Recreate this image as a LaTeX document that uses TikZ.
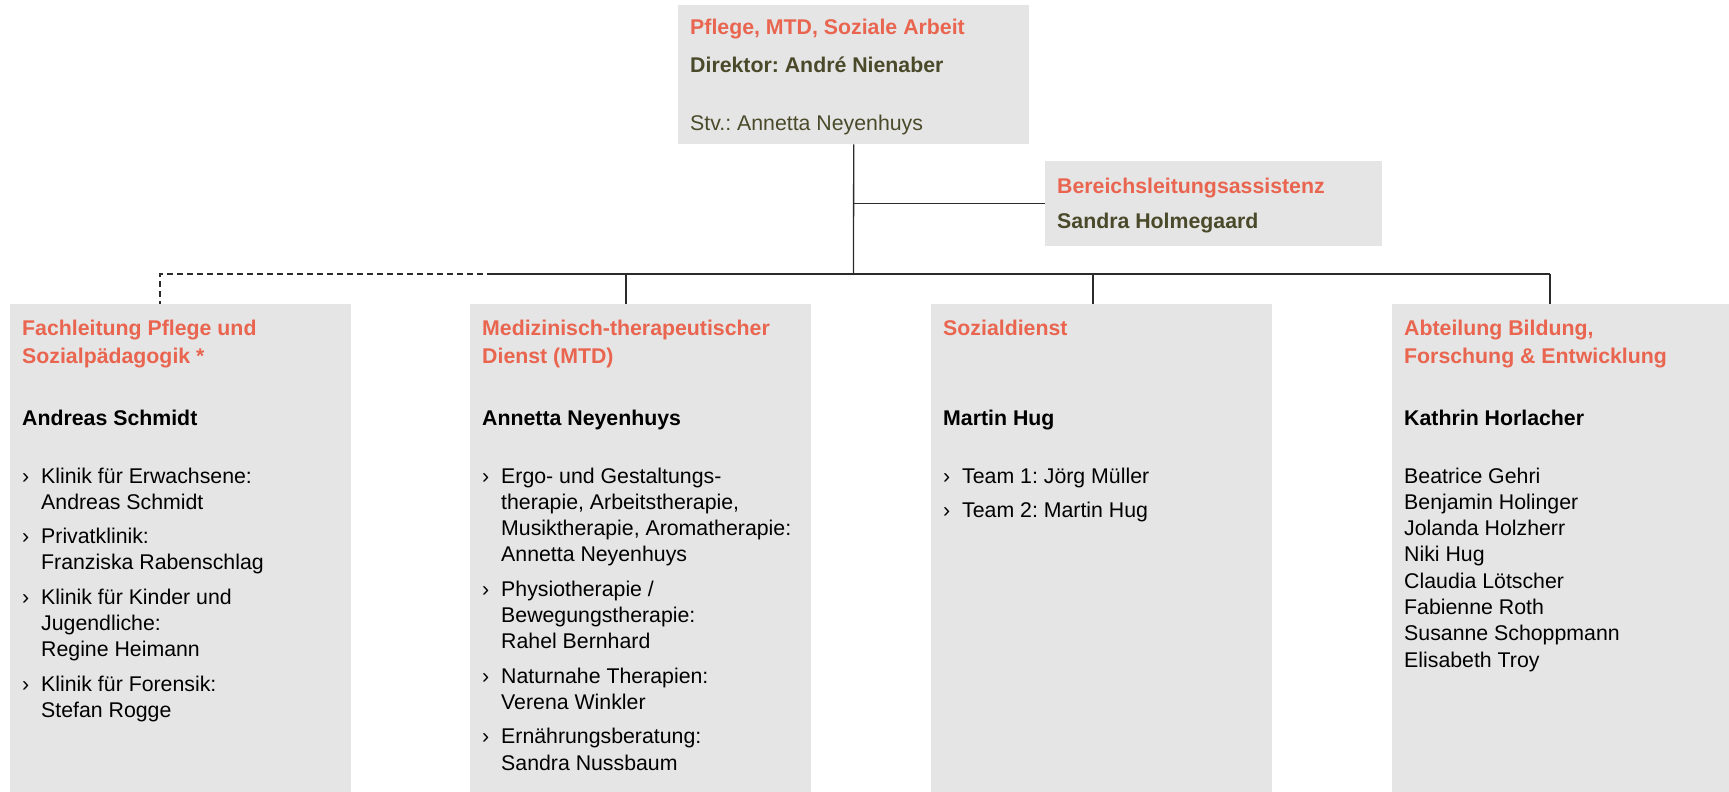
\documentclass[tikz,border=0pt]{standalone}
\usepackage{fontspec}
\setmainfont{Liberation Sans}
\frenchspacing
\definecolor{boxgray}{HTML}{E5E5E5}
\definecolor{coral}{HTML}{E9654F}
\definecolor{olive}{HTML}{4A4A2B}
\definecolor{linec}{HTML}{2B2B2B}
\begin{document}
\begin{tikzpicture}[x=1pt,y=-1pt,
  box/.style={fill=boxgray, inner sep=0pt, anchor=north west},
  txt/.style={inner sep=0pt, anchor=base west, text=black, font=\fontsize{21.3}{26.3}\selectfont},
  ttl/.style={txt, text=coral, font=\fontsize{21.3}{28.7}\selectfont\bfseries},
  sub/.style={txt, text=olive, font=\fontsize{21.3}{26.3}\selectfont\bfseries},
  subr/.style={txt, text=olive},
  head/.style={txt, font=\fontsize{21.3}{26.3}\selectfont\bfseries},
  conn/.style={draw=linec, line width=1.3pt},
  dconn/.style={conn, dash pattern=on 6pt off 4pt}]
\useasboundingbox (0,0) rectangle (1729,792);

% boxes
\node[box, minimum width=351pt, minimum height=139pt] (top) at (678,5) {};
\node[box, minimum width=337pt, minimum height=85pt] (ber) at (1045,161) {};
\node[box, minimum width=341pt, minimum height=488pt] (b1) at (10,304) {};
\node[box, minimum width=341pt, minimum height=488pt] (b2) at (470,304) {};
\node[box, minimum width=341pt, minimum height=488pt] (b3) at (931,304) {};
\node[box, minimum width=337pt, minimum height=488pt] (b4) at (1392,304) {};

% top box text
\node[ttl] (t1) at (690,35) {Pflege, MTD, Soziale Arbeit};
\node[sub] (t2) at (690,72) {Direktor: André Nienaber};
\node[subr] (t3) at (690,130) {Stv.: Annetta Neyenhuys};

% Bereichsleitung
\node[ttl] (be1) at (1057,193) {Bereichsleitungsassistenz};
\node[sub] (be2) at (1057,228) {Sandra Holmegaard};

% box 1
\node[ttl] (h1) at (22,335) {\parbox[t]{330pt}{Fachleitung Pflege und\\Sozialpädagogik *}};
\node[head] (n1) at (22,425.5) {Andreas Schmidt};
\node[txt] (b1a) at (22,483) {›};
\node[txt] (b1at) at (41,483) {\parbox[t]{300pt}{Klinik für Erwachsene:\\Andreas Schmidt}};
\node[txt] (b1b) at (22,543.6) {›};
\node[txt] (b1bt) at (41,543.6) {\parbox[t]{300pt}{Privatklinik:\\Franziska Rabenschlag}};
\node[txt] (b1c) at (22,604.2) {›};
\node[txt] (b1ct) at (41,604.2) {\parbox[t]{300pt}{Klinik für Kinder und\\Jugendliche:\\Regine Heimann}};
\node[txt] (b1d) at (22,691.1) {›};
\node[txt] (b1dt) at (41,691.1) {\parbox[t]{300pt}{Klinik für Forensik:\\Stefan Rogge}};

% box 2
\node[ttl] (h2) at (482,335) {\parbox[t]{330pt}{Medizinisch-therapeutischer\\Dienst (MTD)}};
\node[head] (n2) at (482,425.5) {Annetta Neyenhuys};
\node[txt] (b2a) at (482,483) {›};
\node[txt] (b2at) at (501,483) {\parbox[t]{305pt}{Ergo- und Gestaltungs-\\therapie, Arbeitstherapie,\\Musiktherapie, Aromatherapie:\\Annetta Neyenhuys}};
\node[txt] (b2b) at (482,596.2) {›};
\node[txt] (b2bt) at (501,596.2) {\parbox[t]{300pt}{Physiotherapie /\\Bewegungstherapie:\\Rahel Bernhard}};
\node[txt] (b2c) at (482,683.1) {›};
\node[txt] (b2ct) at (501,683.1) {\parbox[t]{300pt}{Naturnahe Therapien:\\Verena Winkler}};
\node[txt] (b2d) at (482,743.7) {›};
\node[txt] (b2dt) at (501,743.7) {\parbox[t]{300pt}{Ernährungsberatung:\\Sandra Nussbaum}};

% box 3
\node[ttl] (h3) at (943,335) {Sozialdienst};
\node[head] (n3) at (943,425.5) {Martin Hug};
\node[txt] (b3a) at (943,483) {›};
\node[txt] (b3at) at (962,483) {Team 1: Jörg Müller};
\node[txt] (b3b) at (943,517.3) {›};
\node[txt] (b3bt) at (962,517.3) {Team 2: Martin Hug};

% box 4
\node[ttl] (h4) at (1404,335) {\parbox[t]{320pt}{Abteilung Bildung,\\Forschung \& Entwicklung}};
\node[head] (n4) at (1404,425.5) {Kathrin Horlacher};
\node[txt] (l4) at (1404,483) {\parbox[t]{310pt}{Beatrice Gehri\\Benjamin Holinger\\Jolanda Holzherr\\Niki Hug\\Claudia Lötscher\\Fabienne Roth\\Susanne Schoppmann\\Elisabeth Troy}};

% connectors
\coordinate (j) at (853.5,274);
\coordinate (d1) at (160,274);
\coordinate (dm) at (493,274);
\coordinate (d2) at (626,274);
\coordinate (d3) at (1093,274);
\coordinate (d4) at (1550,274);
\draw[conn] (top.south) -- (j);
\draw[conn] (top.south |- ber.west) -- (ber.west);
\draw[conn] (dm) -- (d4);
\draw[dconn] (dm) -- (d1) -- (d1 |- b1.north);
\draw[conn] (d2) -- (d2 |- b2.north);
\draw[conn] (d3) -- (d3 |- b3.north);
\draw[conn] (d4) -- (d4 |- b4.north);
\end{tikzpicture}
\end{document}
